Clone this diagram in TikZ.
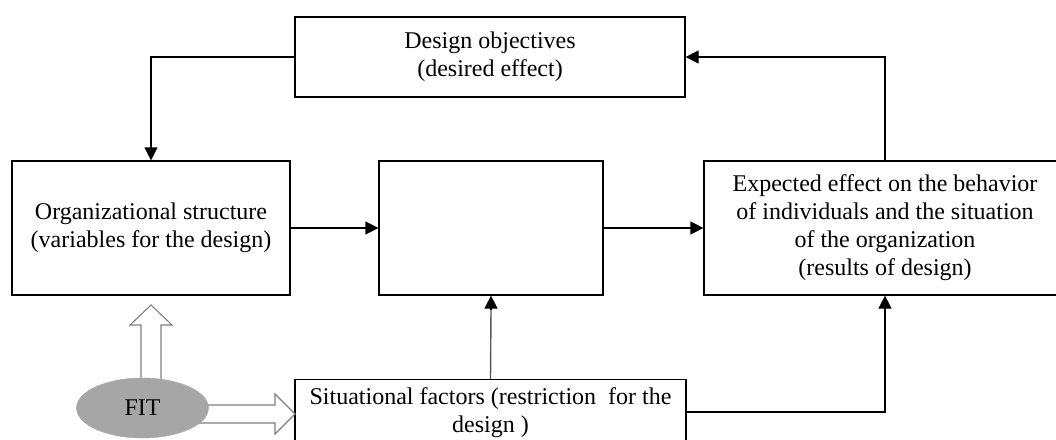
\documentclass[tikz,border=0pt]{standalone}
\usepackage{fontspec}
\setmainfont{Liberation Serif}
\usetikzlibrary{arrows.meta,shapes.geometric}
\begin{document}
\begin{tikzpicture}[x=1pt,y=-1pt,
  box/.style={draw=black,line width=1.2pt,fill=white,align=center,inner sep=0pt,
    font=\fontsize{24}{28}\selectfont},
  arr/.style={line width=1.2pt,-{Triangle[length=13pt,width=13pt]}},
  hollow/.style={draw=black!50,line width=1.1pt,fill=white,line join=miter}]
\clip (0,0) rectangle (1056,439);
\fill[white] (0,0) rectangle (1056,439);

% boxes
\node[box,minimum width=390pt,minimum height=80pt] (design) at (490,57)
  {Design objectives\\(desired effect)};
\node[box,minimum width=278pt,minimum height=134pt] (org) at (151,228)
  {Organizational structure\\(variables for the design)};
\node[box,minimum width=224pt,minimum height=134pt] (mid) at (491,228) {};
\node[box,minimum width=362pt,minimum height=134pt] (exp) at (885,228)
  {Expected effect on the behavior\\of individuals and the situation\\of the organization\\(results of design)};
\node[box,minimum width=391pt,anchor=north,inner ysep=8pt,minimum height=90pt,
  text depth=55pt] (sit) at (490.5,379)
  {Situational factors (restriction\ \ for the\\design )};

% connectors
\draw[arr] (design.west) -| (org.north);
\draw[arr] (org.east) -- (org.east -| mid.west);
\draw[arr] (mid.east) -- (mid.east -| exp.west);
\draw[arr] (exp.north) |- (design.east);
\draw[line width=1.4pt,black!65] (sit.north) -- ([yshift=-13pt]mid.south);
\draw[arr] ([yshift=-14pt]mid.south) -- (mid.south);
\draw[arr] ([yshift=-33pt]sit.north east) -| (exp.south);

% hollow block arrows out of FIT
\draw[hollow] (141,395) -- (141,325) -- (130,325) -- (151,305) -- (172,325)
  -- (161,325) -- (161,395) -- cycle;
\draw[hollow] (190,405) -- (275,405) -- (275,394) -- (295,414) -- (275,434)
  -- (275,423) -- (190,423) -- cycle;

% FIT ellipse
\node[ellipse,fill=black!35,draw=black!35,minimum width=132pt,minimum height=60pt,
  inner sep=0pt,font=\fontsize{24}{28}\selectfont] (fit) at (142.5,408) {FIT};
\end{tikzpicture}
\end{document}
